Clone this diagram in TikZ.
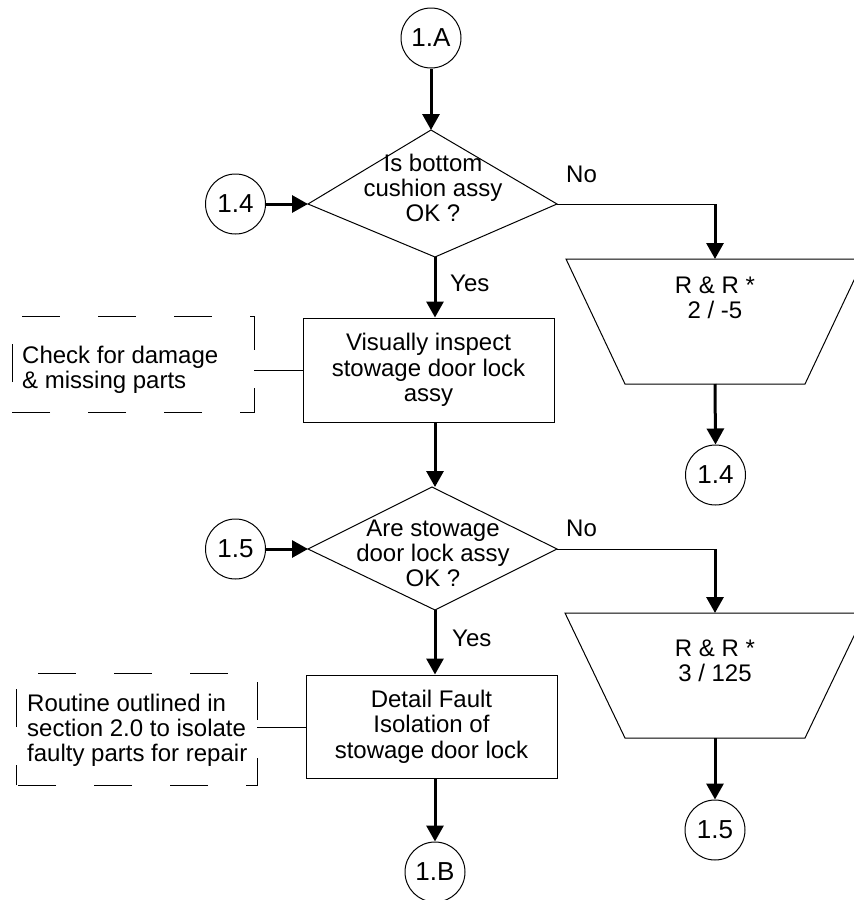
\documentclass[tikz,border=0pt]{standalone}
\usepackage{fontspec}
\setmainfont{Liberation Sans}
\usetikzlibrary{arrows.meta}
\begin{document}
\begin{tikzpicture}[x=1pt,y=-1pt,
  txt/.style={font=\fontsize{24}{25}\selectfont, align=center, inner sep=0pt},
  conn/.style={draw, circle, line width=1pt, minimum size=60pt, inner sep=0pt, font=\fontsize{26}{28}\selectfont},
  boxnode/.style={draw, line width=1pt, inner sep=0pt, font=\fontsize{24}{25.5}\selectfont, align=center},
  flow/.style={line width=3pt, -{Triangle[length=16pt,width=17pt]}},
  thinline/.style={line width=1pt},
  annot/.style={line width=1pt, dash pattern=on 38pt off 38pt}
]
\useasboundingbox (0,0) rectangle (854,900);
\clip (0,0) rectangle (854,900);

% connectors (circles)
\node[conn] (cA) at (431,38) {1.A};
\node[conn] (c14l) at (235.5,204) {1.4};
\node[conn] (c14r) at (715.5,475) {1.4};
\node[conn] (c15l) at (235.5,549) {1.5};
\node[conn] (c15r) at (715,830) {1.5};
\node[conn] (cB) at (435,872) {1.B};

% diamond 1
\coordinate (d1t) at (431,130);
\coordinate (d1r) at (557,204);
\coordinate (d1b) at (435,257);
\coordinate (d1l) at (308,204);
\draw[thinline] (d1t) -- (d1r) -- (d1b) -- (d1l) -- cycle;
\node[txt] (d1txt) at (433,188) {Is bottom\\cushion assy\\OK ?};

% diamond 2
\coordinate (d2t) at (432,487);
\coordinate (d2r) at (557,549);
\coordinate (d2b) at (435,610);
\coordinate (d2l) at (308,549);
\draw[thinline] (d2t) -- (d2r) -- (d2b) -- (d2l) -- cycle;
\node[txt] (d2txt) at (433,553) {Are stowage\\door lock assy\\OK ?};

% boxes
\node[boxnode, minimum width=251pt, minimum height=104pt] (b1) at (428.5,370) {Visually inspect\\stowage door lock\\assy};
\node[boxnode, minimum width=251pt, minimum height=103pt] (b2) at (431.5,726.5) {Detail Fault\\Isolation of\\stowage door lock};

% trapezoids
\coordinate (t1a) at (566,259);
\coordinate (t1b) at (864,259);
\coordinate (t1c) at (805,384);
\coordinate (t1d) at (625,384);
\coordinate (t1top) at (715,259);
\coordinate (t1bot) at (715,384);
\draw[thinline] (t1a) -- (t1b) -- (t1c) -- (t1d) -- cycle;
\node[txt] (t1txt) at (715,298) {R \& R *\\2 / -5};

\coordinate (t2a) at (565,613);
\coordinate (t2b) at (865,613);
\coordinate (t2c) at (805,738);
\coordinate (t2d) at (625,738);
\coordinate (t2top) at (715,613);
\coordinate (t2bot) at (715,738);
\draw[thinline] (t2a) -- (t2b) -- (t2c) -- (t2d) -- cycle;
\node[txt] (t2txt) at (715,660.5) {R \& R *\\3 / 125};

% annotations
\coordinate (a1bl) at (12,412);
\coordinate (a1tl) at (12,316);
\coordinate (a1tr) at (254,316);
\coordinate (a1br) at (254,412);
\coordinate (a1r) at (254,370);
\draw[annot, dash phase=46pt] (a1bl) -- (a1tl) -- (a1tr) -- (a1br) -- cycle;
\node[txt, align=left, anchor=west] (a1txt) at (22,370) {Check for damage\\\& missing parts};

\coordinate (a2bl) at (16,785);
\coordinate (a2tl) at (16,673);
\coordinate (a2tr) at (257,673);
\coordinate (a2br) at (257,785);
\coordinate (a2r) at (257,727);
\draw[annot, dash phase=18pt] (a2bl) -- (a2tl) -- (a2tr) -- (a2br) -- cycle;
\node[txt, align=left, anchor=west] (a2txt) at (27,730) {Routine outlined in\\section 2.0 to isolate\\faulty parts for repair};

\draw[thinline] (b1.west |- a1r) -- (a1r);
\draw[thinline] (b2.west |- a2r) -- (a2r);

% main flow
\draw[flow] (cA.south) -- (cA.south |- d1t);
\draw[flow] (c14l.east) -- (d1l);
\draw[flow] (d1b) -- (d1b |- b1.north);
\draw[flow] (d1b |- b1.south) -- (d1b |- d2t);
\draw[flow] (c15l.east) -- (d2l);
\draw[flow] (d2b) -- (d2b |- b2.north);
\draw[flow] (d2b |- b2.south) -- (d2b |- cB.north);

% No branches
\coordinate (n1) at (715,204);
\coordinate (n2) at (715,549);
\draw[thinline] (d1r) -- (n1);
\draw[flow] (n1) -- (t1top);
\draw[flow] (t1bot) -- (c14r.north);
\draw[thinline] (d2r) -- (n2);
\draw[flow] (n2) -- (t2top);
\draw[flow] (t2bot) -- (c15r.north);

% labels
\node[txt, anchor=base west] (no1) at (566,182.5) {No};
\node[txt, anchor=base west] (no2) at (566,536.5) {No};
\node[txt, anchor=base west] (yes1) at (450,291) {Yes};
\node[txt, anchor=base west] (yes2) at (452,646) {Yes};
\end{tikzpicture}
\end{document}
